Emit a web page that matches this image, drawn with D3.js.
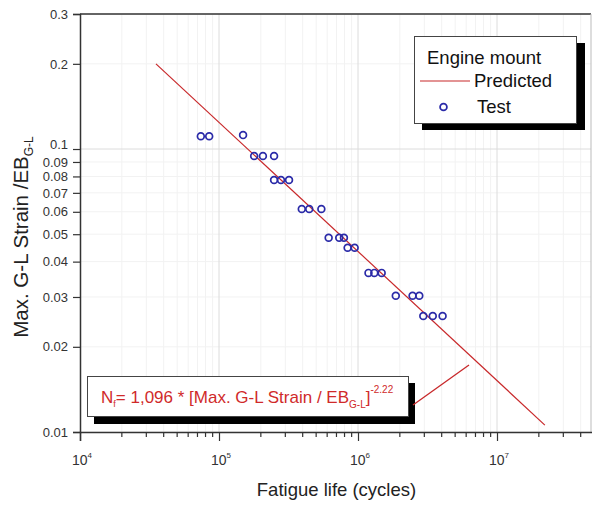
<!DOCTYPE html>
<html>
<head>
<meta charset="utf-8">
<script src="https://cdn.jsdelivr.net/npm/d3@7"></script>
<style>
  body { margin: 0; background: #fff; }
  svg { display: block; font-family: "Liberation Sans", Arial, sans-serif; }
</style>
</head>
<body>
<svg id="chart" width="592" height="507"></svg>
<script>
// test results (cycles, max G-L strain / EB)
const testLife = [7.4e4, 8.5e4, 1.49e5,
  1.79e5, 2.07e5, 2.49e5,
  2.49e5, 2.79e5, 3.19e5,
  3.94e5, 4.46e5, 5.45e5,
  6.15e5, 7.33e5, 7.92e5,
  8.42e5, 9.46e5,
  1.19e6, 1.31e6, 1.48e6,
  1.87e6, 2.47e6, 2.76e6,
  2.95e6, 3.45e6, 4.06e6];
const testStrain = [0.111, 0.111, 0.112,
  0.0945, 0.0945, 0.0945,
  0.0777, 0.0777, 0.0777,
  0.0614, 0.0614, 0.0614,
  0.0486, 0.0486, 0.0486,
  0.0448, 0.0448,
  0.0365, 0.0365, 0.0365,
  0.0303, 0.0303, 0.0303,
  0.0257, 0.0257, 0.0257];

// predicted line end points
const predLife = [3.52e4, 2.21e7];
const predStrain = [0.2, 0.01058];

const yTicks = [0.01, 0.02, 0.03, 0.04, 0.05, 0.06, 0.07, 0.08, 0.09, 0.1, 0.2, 0.3];
const xTicks = [1e4, 1e5, 1e6, 1e7];

const svg = d3.select("#chart");
const mLeft = 80, mTop = 14, mBottom = 432, mRight = 591;
const red = "#c8282a", blue = "#2a2aa8";

const x = d3.scaleLog().domain([1e4, 5e7]).range([mLeft, mLeft + 139 * Math.log10(5000)]);
const y = d3.scaleLog().domain([0.01, 0.3]).range([mBottom, mTop]);

// minor ticks on x
const xMinor = [];
xTicks.forEach(d => {
  for (let k = 2; k <= 9; k++) {
    if (d * k <= 5e7) xMinor.push(d * k);
  }
});

// grid
const grid = svg.append("g");
grid.selectAll(".vmin")
  .data(xMinor)
  .join("line")
  .attr("x1", d => x(d)).attr("x2", d => x(d))
  .attr("y1", mTop).attr("y2", mBottom)
  .attr("stroke", "#f2f2f2").attr("stroke-width", 1);
grid.selectAll(".hmin")
  .data(yTicks.filter(d => d !== 0.1))
  .join("line")
  .attr("x1", mLeft).attr("x2", mRight)
  .attr("y1", d => y(d)).attr("y2", d => y(d))
  .attr("stroke", "#f2f2f2").attr("stroke-width", 1);
grid.selectAll(".vmaj")
  .data(xTicks.slice(1))
  .join("line")
  .attr("x1", d => x(d)).attr("x2", d => x(d))
  .attr("y1", mTop).attr("y2", mBottom)
  .attr("stroke", "#dcdcdc").attr("stroke-width", 1);
grid.append("line")
  .attr("x1", mLeft).attr("x2", mRight)
  .attr("y1", y(0.1)).attr("y2", y(0.1))
  .attr("stroke", "#dcdcdc").attr("stroke-width", 1);

// frame
svg.append("line").attr("x1", mLeft).attr("x2", mRight).attr("y1", mTop).attr("y2", mTop)
  .attr("stroke", "#333").attr("stroke-width", 1.5);
svg.append("line").attr("x1", mRight).attr("x2", mRight).attr("y1", mTop).attr("y2", mBottom)
  .attr("stroke", "#bbb").attr("stroke-width", 1);

// x axis
const xAxis = svg.append("g")
  .attr("transform", `translate(0,${mBottom})`)
  .call(d3.axisBottom(x).tickValues(xTicks).tickSize(9).tickFormat(""));
xAxis.select(".domain").attr("stroke", "#333").attr("stroke-width", 1.5);
xAxis.selectAll(".tick line").attr("stroke", "#333").attr("stroke-width", 1.2);
xAxis.selectAll(".minor")
  .data(xMinor)
  .join("line")
  .attr("class", "minor")
  .attr("x1", d => x(d)).attr("x2", d => x(d))
  .attr("y1", 0).attr("y2", 5)
  .attr("stroke", "#333").attr("stroke-width", 1.2);

const xLab = svg.append("g").selectAll("text")
  .data(xTicks)
  .join("text")
  .attr("x", d => x(d) + 2)
  .attr("y", 465)
  .attr("text-anchor", "middle")
  .attr("fill", "#333")
  .style("font-size", "14px");
xLab.append("tspan").text("10");
xLab.append("tspan")
  .attr("dy", -7)
  .style("font-size", "8px")
  .text(d => Math.round(Math.log10(d)));

// y axis
const yAxis = svg.append("g")
  .attr("transform", `translate(${mLeft},0)`)
  .call(d3.axisLeft(y).tickValues(yTicks).tickSize(7).tickPadding(5)
    .tickFormat(d => String(+d.toFixed(2))));
yAxis.select(".domain").attr("stroke", "#333").attr("stroke-width", 1.5);
yAxis.selectAll(".tick line").attr("stroke", "#333").attr("stroke-width", 1.2);
yAxis.selectAll(".tick text")
  .attr("fill", "#333")
  .attr("dy", d => d === 0.1 ? "-0.05em" : "0.32em")
  .style("font-size", "13px")
  .style("font-family", "'Liberation Sans', Arial, sans-serif");

// predicted line
const line = d3.line().x(d => x(d[0])).y(d => y(d[1]));
svg.append("path")
  .datum(d3.zip(predLife, predStrain))
  .attr("d", line)
  .attr("fill", "none")
  .attr("stroke", red)
  .attr("stroke-width", 1.2);

// test points
svg.append("g").selectAll("circle")
  .data(d3.zip(testLife, testStrain))
  .join("circle")
  .attr("cx", d => x(d[0]))
  .attr("cy", d => y(d[1]))
  .attr("r", 3.4)
  .attr("fill", "none")
  .attr("stroke", blue)
  .attr("stroke-width", 1.7);

// legend
const lg = svg.append("g");
lg.append("rect").attr("x", 422).attr("y", 43).attr("width", 163).attr("height", 87).attr("fill", "#000");
lg.append("rect").attr("x", 414.5).attr("y", 36.5).attr("width", 162).attr("height", 87)
  .attr("fill", "#fff").attr("stroke", "#444").attr("stroke-width", 1);
lg.append("text").attr("x", 427).attr("y", 64).attr("fill", "#111").style("font-size", "18.5px").text("Engine mount");
lg.append("line").attr("x1", 420).attr("x2", 470).attr("y1", 81).attr("y2", 81)
  .attr("stroke", red).attr("stroke-width", 1.2);
lg.append("text").attr("x", 474).attr("y", 87).attr("fill", "#111").style("font-size", "18.5px").text("Predicted");
lg.append("circle").attr("cx", 443.5).attr("cy", 107).attr("r", 3.4)
  .attr("fill", "none").attr("stroke", blue).attr("stroke-width", 1.8);
lg.append("text").attr("x", 477).attr("y", 113).attr("fill", "#111").style("font-size", "18.5px").text("Test");

// equation box
const eq = svg.append("g");
eq.append("rect").attr("x", 94).attr("y", 383).attr("width", 321).attr("height", 41).attr("fill", "#000");
eq.append("rect").attr("x", 87.5).attr("y", 376.5).attr("width", 321).attr("height", 40)
  .attr("fill", "#fff").attr("stroke", "#444").attr("stroke-width", 1);
const et = eq.append("text").attr("x", 101).attr("y", 403).attr("fill", "#d02a2a").style("font-size", "17px");
et.append("tspan").text("N");
et.append("tspan").attr("dy", 4).style("font-size", "9px").text("f");
et.append("tspan").attr("dy", -4).text("= 1,096 * [Max. G-L Strain / EB");
et.append("tspan").attr("dy", 5).style("font-size", "10px").text("G-L");
et.append("tspan").attr("dy", -5).text("]");
et.append("tspan").attr("dy", -10).style("font-size", "10px").text("-2.22");
eq.append("line").attr("x1", 413).attr("y1", 405).attr("x2", 469).attr("y2", 365)
  .attr("stroke", red).attr("stroke-width", 1.3);

// axis titles
svg.append("text")
  .attr("x", 336.5).attr("y", 496)
  .attr("text-anchor", "middle")
  .attr("fill", "#222")
  .style("font-size", "18.5px")
  .text("Fatigue life (cycles)");

const yt = svg.append("text")
  .attr("transform", "translate(28,237) rotate(-90)")
  .attr("text-anchor", "middle")
  .attr("fill", "#222")
  .style("font-size", "20.5px");
yt.append("tspan").text("Max. G-L Strain /EB");
yt.append("tspan").attr("dy", 5).style("font-size", "12px").text("G-L");
</script>
</body>
</html>
